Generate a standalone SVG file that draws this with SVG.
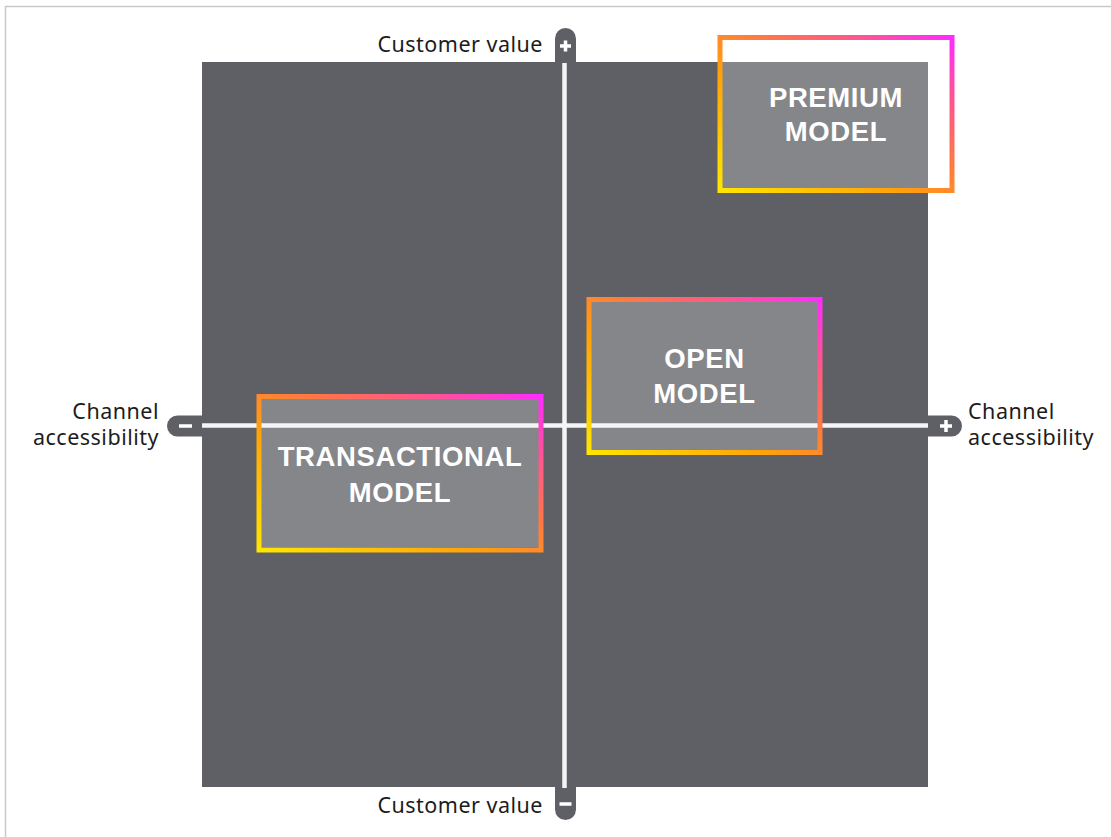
<svg xmlns="http://www.w3.org/2000/svg" width="1111" height="837" viewBox="0 0 1111 837">
  <style>
    .axis-label { font-family: "Noto Sans", "Liberation Sans", sans-serif; font-size: 21.5px; fill: #1c1c1c; letter-spacing: 0.5px; }
    .model-label { font-family: "Liberation Sans", Arial, sans-serif; font-size: 27.5px; font-weight: bold; fill: #ffffff; letter-spacing: 0.6px; text-anchor: middle; }
    .box-fill { fill: #ffffff; fill-opacity: 0.24; }
    .box-frame { fill: none; stroke: url(#frameGrad); stroke-width: 5; }
    .cap { fill: #5e6065; }
    .sign { stroke: #ffffff; stroke-width: 3.5; fill: none; }
    .axis { stroke: #f4f4f6; stroke-width: 4.5; fill: none; }
  </style>
  <defs>
    <linearGradient id="frameGrad" x1="0" y1="1" x2="1" y2="0">
      <stop offset="0" stop-color="#ffe600"/>
      <stop offset="0.38" stop-color="#ffa20a"/>
      <stop offset="0.58" stop-color="#ff7a40"/>
      <stop offset="0.8" stop-color="#ff5590"/>
      <stop offset="1" stop-color="#ff2cff"/>
    </linearGradient>
  </defs>

  <rect x="0" y="0" width="1111" height="837" fill="#ffffff"/>
  <rect x="5.5" y="6.5" width="1112" height="840" fill="none" stroke="#c9c9c9" stroke-width="1.5"/>

  <!-- quadrant field -->
  <rect x="202" y="62" width="726" height="725" fill="#5e6065"/>

  <!-- box fills sit under the axes -->
  <rect class="box-fill" x="722" y="40" width="230" height="148"/>
  <rect class="box-fill" x="261" y="399" width="279" height="148"/>
  <rect class="box-fill" x="591" y="302" width="228" height="148"/>

  <g id="axes">
    <!-- end caps -->
    <path class="cap" d="M555,62 V38.5 A10.5,10.5 0 0 1 576,38.5 V62 Z"/>
    <path class="cap" d="M555,787 V809.5 A10.5,10.5 0 0 0 576,809.5 V787 Z"/>
    <path class="cap" d="M202,415.5 H177.5 A10.5,10.5 0 0 0 177.5,436.5 H202 Z"/>
    <path class="cap" d="M928,415.5 H951.5 A10.5,10.5 0 0 1 951.5,436.5 H928 Z"/>
    <!-- signs -->
    <path class="sign" d="M560,46 H571 M565.5,40.5 V51.5"/>
    <path class="sign" d="M559.5,804 H571.5"/>
    <path class="sign" d="M179,426 H192"/>
    <path class="sign" d="M940,426 H952 M946,420 V432"/>
    <!-- axis lines -->
    <line class="axis" x1="564.5" y1="63" x2="564.5" y2="788"/>
    <line class="axis" x1="202" y1="425.5" x2="928" y2="425.5"/>
  </g>

  <g id="axis-labels">
    <text class="axis-label" x="543" y="52" text-anchor="end">Customer value</text>
    <text class="axis-label" x="543" y="813" text-anchor="end">Customer value</text>
    <text class="axis-label" x="159" y="419" text-anchor="end">Channel</text>
    <text class="axis-label" x="159" y="445" text-anchor="end">accessibility</text>
    <text class="axis-label" x="968" y="419">Channel</text>
    <text class="axis-label" x="968" y="445">accessibility</text>
  </g>

  <g id="premium-model">
    <rect class="box-frame" x="720" y="37.5" width="232" height="153"/>
    <text class="model-label" x="836" y="107">PREMIUM</text>
    <text class="model-label" x="836" y="141">MODEL</text>
  </g>

  <g id="transactional-model">
    <rect class="box-frame" x="259" y="396.5" width="282" height="153.5"/>
    <text class="model-label" x="400" y="466">TRANSACTIONAL</text>
    <text class="model-label" x="400" y="502">MODEL</text>
  </g>

  <g id="open-model">
    <rect class="box-frame" x="589" y="299.5" width="231" height="153"/>
    <text class="model-label" x="704.5" y="368">OPEN</text>
    <text class="model-label" x="704.5" y="403">MODEL</text>
  </g>
</svg>
